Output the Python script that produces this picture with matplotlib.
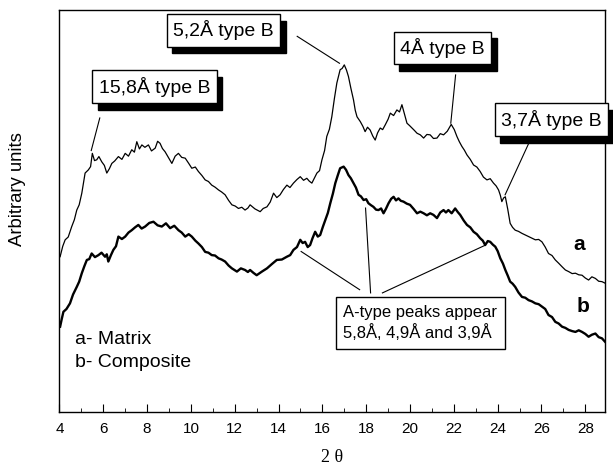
import numpy as np
import matplotlib
matplotlib.use("Agg")
import matplotlib.pyplot as plt

plt.rcParams['font.family'] = ['Liberation Sans', 'DejaVu Sans']

# curve a (Matrix)
theta_a = [4.03, 4.15, 4.26, 4.40, 4.56, 4.68, 4.79, 4.90, 5.02, 5.17, 5.32, 5.42, 5.50, 5.60,
           5.70, 5.80, 5.93, 6.05, 6.16, 6.28, 6.39, 6.52, 6.69, 6.85, 7.00, 7.15, 7.30, 7.42,
           7.53, 7.65, 7.76, 7.90, 8.06, 8.20, 8.37, 8.48, 8.59, 8.70, 8.82, 8.98, 9.13, 9.28,
           9.43, 9.58, 9.74, 9.90, 10.04, 10.20, 10.34, 10.50, 10.65, 10.80, 10.95, 11.10,
           11.26, 11.40, 11.56, 11.72, 11.87, 12.02, 12.17, 12.32, 12.47, 12.60, 12.70, 12.92,
           13.16, 13.30, 13.47, 13.62, 13.77, 13.92, 14.07, 14.22, 14.38, 14.52, 14.68, 14.84,
           14.99, 15.14, 15.29, 15.40, 15.52, 15.64, 15.75, 15.87, 15.98, 16.10, 16.20, 16.32,
           16.43, 16.55, 16.66, 16.81, 16.90, 17.00, 17.10, 17.19, 17.30, 17.42, 17.50, 17.58,
           17.73, 17.85, 17.95, 18.06, 18.18, 18.30, 18.41, 18.52, 18.64, 18.75, 18.87, 19.00,
           19.10, 19.25, 19.40, 19.52, 19.63, 19.75, 19.86, 19.98, 20.09, 20.20, 20.32, 20.47,
           20.62, 20.77, 20.92, 21.07, 21.23, 21.38, 21.53, 21.70, 21.88, 22.02, 22.14, 22.25,
           22.37, 22.48, 22.60, 22.75, 22.90, 23.05, 23.20, 23.35, 23.51, 23.66, 23.81, 23.93,
           24.04, 24.12, 24.19, 24.27, 24.35, 24.46, 24.57, 24.68, 24.80, 24.95, 25.11, 25.26,
           25.41, 25.56, 25.72, 25.87, 26.02, 26.17, 26.32, 26.48, 26.63, 26.78, 26.94, 27.09,
           27.24, 27.40, 27.55, 27.70, 27.85, 28.00, 28.15, 28.30, 28.46, 28.61, 28.76, 28.91]
matrix_a = [38.6, 41.2, 42.8, 43.5, 46.1, 47.8, 50.2, 51.5, 54.4, 59.4, 60.2, 61.0, 64.3, 62.5,
            62.7, 63.5, 62.2, 61.3, 59.4, 60.5, 61.8, 62.4, 63.5, 62.8, 64.3, 63.6, 65.2, 64.6,
            67.2, 65.4, 66.4, 65.8, 66.4, 64.9, 65.6, 67.3, 66.8, 65.5, 64.7, 63.2, 61.8, 63.6,
            64.3, 63.3, 63.1, 61.8, 60.6, 60.9, 59.8, 58.8, 57.7, 57.3, 56.4, 55.9, 55.2, 54.7,
            54.0, 52.6, 51.5, 51.2, 50.6, 50.9, 50.2, 50.7, 51.5, 50.5, 49.8, 50.6, 51.0, 52.2,
            54.4, 53.3, 54.0, 55.3, 56.4, 55.8, 56.9, 57.8, 58.5, 57.6, 58.1, 57.4, 56.9, 58.2,
            59.4, 60.0, 62.7, 65.0, 68.5, 70.3, 73.4, 78.0, 81.8, 85.1, 85.4, 86.3, 85.0, 83.4,
            80.5, 77.6, 75.0, 73.4, 72.2, 71.0, 69.7, 70.8, 70.1, 68.6, 67.6, 69.4, 70.6, 70.2,
            71.4, 72.8, 74.3, 73.7, 75.1, 74.6, 76.4, 74.0, 71.8, 71.2, 70.6, 70.0, 69.3, 68.9,
            68.1, 69.0, 68.9, 68.0, 68.1, 69.2, 68.9, 69.8, 71.5, 70.2, 68.5, 67.2, 66.0, 65.1,
            63.9, 62.8, 61.4, 60.9, 59.8, 58.4, 57.7, 58.0, 56.9, 56.2, 55.2, 53.9, 52.3, 53.2,
            53.5, 50.4, 46.9, 45.9, 45.2, 44.9, 44.4, 44.0, 43.6, 43.2, 42.8, 42.9, 42.3, 41.0,
            39.4, 38.9, 37.8, 37.0, 36.1, 35.3, 34.9, 34.4, 34.5, 34.1, 34.0, 33.3, 32.8, 33.6,
            33.2, 32.5, 32.4, 32.0]

# curve b (Composite)
theta_b = [4.03, 4.10, 4.18, 4.32, 4.48, 4.62, 4.79, 4.90, 5.02, 5.14, 5.25, 5.36, 5.47, 5.62,
           5.78, 5.92, 6.08, 6.16, 6.23, 6.35, 6.46, 6.58, 6.69, 6.85, 7.00, 7.15, 7.30, 7.45,
           7.60, 7.75, 7.91, 8.10, 8.29, 8.48, 8.67, 8.86, 9.05, 9.24, 9.43, 9.58, 9.74, 9.90,
           10.04, 10.20, 10.34, 10.50, 10.65, 10.80, 10.95, 11.10, 11.26, 11.40, 11.56, 11.72,
           11.87, 12.10, 12.28, 12.47, 12.60, 12.70, 12.85, 13.00, 13.24, 13.47, 13.70, 13.92,
           14.15, 14.38, 14.53, 14.68, 14.84, 14.99, 15.10, 15.21, 15.33, 15.44, 15.55, 15.67,
           15.79, 15.90, 16.02, 16.13, 16.25, 16.36, 16.48, 16.59, 16.70, 16.81, 16.97, 17.08,
           17.19, 17.30, 17.42, 17.53, 17.65, 17.76, 17.88, 18.00, 18.10, 18.22, 18.33, 18.45,
           18.56, 18.68, 18.79, 18.90, 19.02, 19.14, 19.25, 19.36, 19.47, 19.58, 19.70, 19.85,
           20.00, 20.16, 20.32, 20.47, 20.62, 20.77, 20.92, 21.07, 21.23, 21.38, 21.53, 21.64,
           21.75, 21.90, 22.06, 22.18, 22.29, 22.45, 22.60, 22.75, 22.90, 23.05, 23.20, 23.32,
           23.43, 23.55, 23.66, 23.78, 23.89, 24.00, 24.12, 24.24, 24.35, 24.46, 24.57, 24.68,
           24.80, 24.95, 25.11, 25.26, 25.41, 25.56, 25.72, 25.87, 26.02, 26.17, 26.32, 26.48,
           26.63, 26.78, 26.94, 27.09, 27.24, 27.40, 27.55, 27.70, 27.85, 28.00, 28.15, 28.30,
           28.46, 28.61, 28.76, 28.91]
composite_b = [21.2, 23.0, 24.9, 25.6, 27.0, 29.2, 31.1, 32.4, 34.5, 36.3, 37.8, 38.0, 39.4, 38.5,
               39.0, 39.6, 38.6, 39.2, 37.4, 39.0, 40.3, 41.2, 43.6, 43.0, 43.6, 44.6, 45.2, 45.9,
               46.5, 45.6, 46.1, 47.0, 47.3, 46.4, 46.1, 46.9, 45.7, 46.3, 45.2, 44.6, 43.6, 44.2,
               43.6, 42.6, 41.9, 41.0, 39.8, 39.6, 39.0, 38.9, 38.2, 37.9, 37.4, 36.4, 35.7, 34.9,
               35.7, 35.3, 34.8, 35.3, 34.6, 34.0, 34.9, 35.7, 36.8, 37.8, 37.9, 38.6, 39.0, 40.3,
               41.0, 42.8, 42.0, 42.3, 41.0, 41.5, 43.2, 44.8, 43.6, 44.0, 46.0, 47.7, 49.5, 51.9,
               54.3, 56.9, 58.8, 60.6, 61.0, 60.2, 58.9, 58.1, 56.9, 55.8, 54.0, 53.6, 52.7, 52.9,
               51.9, 51.4, 51.0, 50.3, 50.2, 50.6, 49.4, 50.5, 51.9, 53.0, 53.5, 52.6, 53.1, 52.5,
               52.3, 51.8, 51.5, 50.5, 49.4, 49.8, 49.4, 48.9, 49.4, 49.0, 48.2, 49.6, 50.2, 49.6,
               50.2, 49.4, 50.6, 49.7, 49.0, 47.6, 46.5, 45.9, 44.8, 44.2, 43.2, 42.6, 41.5, 42.5,
               42.3, 41.6, 41.1, 40.0, 38.2, 36.9, 35.3, 33.9, 32.4, 31.9, 31.1, 29.7, 28.6, 28.4,
               27.8, 27.5, 27.0, 26.8, 26.2, 25.6, 24.1, 23.6, 22.4, 22.0, 21.2, 20.9, 20.4, 20.1,
               19.9, 20.3, 19.9, 19.4, 18.7, 19.2, 19.5, 18.6, 18.3, 17.4]

x_ticks = [4, 6, 8, 10, 12, 14, 16, 18, 20, 22, 24, 26, 28]
minor_ticks = [5, 7, 9, 11, 13, 15, 17, 19, 21, 23, 25, 27]

fig = plt.figure(figsize=(6.13, 4.66), dpi=100)
ax = fig.add_axes([0.097, 0.116, 0.890, 0.863])

ax.plot(theta_a, matrix_a, color='black', lw=0.9)
ax.plot(theta_b, composite_b, color='black', lw=1.7)

ax.set_xlim(4, 28.9)
ax.set_ylim(0, 100)
ax.set_xticks(x_ticks)
ax.set_xticks(minor_ticks, minor=True)
ax.tick_params(axis='x', which='major', direction='in', length=5.5, labelsize=11, pad=7)
ax.tick_params(axis='x', which='minor', direction='in', length=3)
ax.set_yticks([])
for s in ax.spines.values():
    s.set_linewidth(1.0)

fig.text(332 / 613, 1 - 458 / 466, '2 θ', family=['Liberation Serif', 'DejaVu Serif'],
         fontsize=13, ha='center', va='center')
fig.text(18 / 613, 1 - 189 / 466, 'Arbitrary units', rotation=90, ha='center', va='center',
         fontsize=13.3)

leaders = [((5.84, 73.1), (5.45, 65.0)),
           ((14.85, 93.4), (16.78, 86.7)),
           ((22.08, 83.8), (21.86, 71.8)),
           ((25.41, 66.7), (24.34, 54.0)),
           ((17.70, 30.4), (15.03, 39.9)),
           ((18.20, 29.6), (17.97, 50.7)),
           ((18.74, 29.6), (23.41, 41.4))]
for (x0, y0), (x1, y1) in leaders:
    ax.plot([x0, x1], [y0, y1], color='black', lw=0.8)

boxes = [('15,8Å type B', (8.34, 80.9)),
         ('5,2Å type B', (11.49, 94.9)),
         ('4Å type B', (21.49, 90.5)),
         ('3,7Å type B', (26.45, 72.7))]
for txt, pos in boxes:
    ax.text(pos[0], pos[1], txt, ha='center', va='center', fontsize=14, zorder=5,
            bbox=dict(boxstyle='square,pad=0.33', fc='white', ec='black', lw=1),
            clip_on=False)
    ax.annotate(txt, xy=pos, xytext=(3.8, -4.8), textcoords='offset points',
                ha='center', va='center', fontsize=14, color='black', zorder=4,
                bbox=dict(boxstyle='square,pad=0.33', fc='black', ec='black'),
                annotation_clip=False)

ax.text(16.95, 22.1, 'A-type peaks appear\n5,8Å, 4,9Å and 3,9Å', ha='left', va='center',
        fontsize=12, linespacing=1.3, zorder=5,
        bbox=dict(boxstyle='square,pad=0.45', fc='white', ec='black', lw=1))

ax.text(27.7, 41.6, 'a', fontsize=15, fontweight='bold', ha='center', va='center')
ax.text(27.9, 26.3, 'b', fontsize=15, fontweight='bold', ha='center', va='center')

ax.text(4.71, 18.1, 'a- Matrix', fontsize=14, ha='left', va='center')
ax.text(4.71, 12.2, 'b- Composite', fontsize=14, ha='left', va='center')

fig.savefig('out.png', dpi=100)
